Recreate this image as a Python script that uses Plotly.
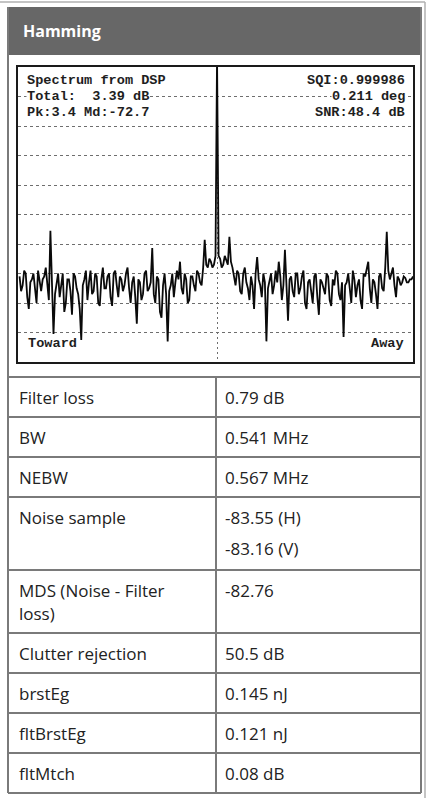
import plotly.graph_objects as go

W, H = 429, 798

# Doppler spectrum (dB) per velocity bin, -128 .. 127
bins = list(range(-128, 128))
spectrum_db = [
    -71, -76, -74, -69, -70, -78, -82, -73, -72, -70, -75, -80, -69, -73, -76, -72,
    -71, -68, -74, -79, -55.5, -70, -90.5, -77, -73, -70, -78, -74, -70, -83, -80, -72,
    -72, -76, -84, -70, -71, -75, -77, -82, -92.5, -74, -72, -69, -79, -73, -69, -77,
    -76, -70, -71, -80, -81, -72, -68, -75, -75, -71, -70, -78, -81, -70, -69, -74,
    -78, -71, -72, -76, -74, -70, -68, -75, -80, -73, -71, -78, -87, -72, -73, -79,
    -77, -70, -69, -76, -75, -73, -61.4, -77, -80, -71, -72, -83, -85, -74, -70, -77,
    -93, -76, -74, -70, -78, -73, -69, -72, -66, -75, -77, -70, -72, -80, -79, -71,
    -71, -74, -76, -69, -70, -73, -74, -68, -58.6, -67, -68, -65, -66, -68, -67, -64,
    3.4, -64, -65, -68, -67, -64, -66, -67, -57.6, -66, -68, -71, -74, -69, -70, -76,
    -77, -70, -68, -73, -75, -79, -71, -74, -82, -70, -64.4, -72, -74, -78, -70, -73,
    -93, -75, -72, -70, -77, -74, -69, -73, -66, -71, -79, -74, -62, -75, -86, -72,
    -71, -76, -78, -70, -70, -77, -75, -71, -69, -80, -82, -73, -72, -76, -80, -71,
    -70, -78, -84, -72, -73, -75, -77, -70, -71, -79, -81, -72, -74, -69, -70, -77,
    -79, -73, -91.5, -74, -73, -70, -76, -80, -69, -72, -78, -74, -72, -79, -82, -70,
    -71, -69, -66, -75, -80, -72, -73, -77, -82, -71, -70, -75, -76, -68, -55.9, -69,
    -72, -70, -68, -74, -78, -71, -72, -74, -73, -71, -71.5, -73, -73, -72, -72, -71,
]

header_title = "Hamming"
info_left = ["Spectrum from DSP", "Total:  3.39 dB", "Pk:3.4 Md:-72.7"]
info_right = ["SQI:0.999986", "0.211 deg", "SNR:48.4 dB"]
dir_labels = ["Toward", "Away"]

param_names = ["Filter loss", "BW", "NEBW", "Noise sample", "MDS (Noise - Filter\nloss)",
               "Clutter rejection", "brstEg", "fltBrstEg", "fltMtch"]
param_values = ["0.79 dB", "0.541 MHz", "0.567 MHz", "-83.55 (H)\n-83.16 (V)", "-82.76",
                "50.5 dB", "0.145 nJ", "0.121 nJ", "0.08 dB"]


def fx(x):
    return x / W


def fy(y):
    return 1 - y / H


# layout geometry in pixels
TL, TR = 8, 421          # table left / right border
COL = 216                # column divider
HEAD_TOP, HEAD_BOT = 7, 55
PL, PR, PT, PB = 18, 413, 67, 362   # spectrum frame
row_lines = [377, 417, 457, 497, 570, 633, 673, 713, 753, 793]
first_line_y = [397, 437, 477, 517, 590, 653, 693, 733, 773]
line_gap = [0, 0, 0, 31, 23, 0, 0, 0, 0]

fig = go.Figure()
fig.add_trace(go.Scatter(
    x=bins, y=spectrum_db, mode="lines",
    line=dict(color="#0a0a0a", width=1.8), hoverinfo="skip", showlegend=False,
))

grid = "#6e6e6e"
fig.update_layout(
    width=W, height=H, margin=dict(l=0, r=0, t=0, b=0),
    paper_bgcolor="white", plot_bgcolor="white",
    xaxis=dict(domain=[fx(PL), fx(PR)], range=[-129, 127], tickvals=[0],
               showticklabels=False, ticks="", showgrid=True, gridcolor=grid,
               gridwidth=1, griddash="2px,3px", zeroline=False,
               showline=True, linecolor="#1a1a1a", linewidth=2, mirror=True),
    yaxis=dict(domain=[fy(PB), fy(PT)], range=[-100, 0], dtick=10,
               showticklabels=False, ticks="", showgrid=True, gridcolor=grid,
               gridwidth=1, griddash="3px,3px", zeroline=False,
               showline=True, linecolor="#1a1a1a", linewidth=2, mirror=True),
)

shapes = []
# outer page frame
shapes.append(dict(type="line", xref="paper", yref="paper", x0=0, x1=fx(425), y0=fy(2), y1=fy(2),
                   line=dict(color="#b0b0b0", width=1.5)))
shapes.append(dict(type="line", xref="paper", yref="paper", x0=fx(425), x1=fx(425), y0=fy(2), y1=0,
                   line=dict(color="#b0b0b0", width=1.5)))
# header bar
shapes.append(dict(type="rect", xref="paper", yref="paper", x0=fx(TL), x1=fx(TR),
                   y0=fy(HEAD_BOT), y1=fy(HEAD_TOP), fillcolor="#676767", line=dict(width=0),
                   layer="below"))
tbl = dict(color="#7a7a7a", width=2)
shapes.append(dict(type="line", xref="paper", yref="paper", x0=fx(TL), x1=fx(TL),
                   y0=fy(HEAD_TOP), y1=fy(row_lines[-1]), line=tbl))
shapes.append(dict(type="line", xref="paper", yref="paper", x0=fx(TR), x1=fx(TR),
                   y0=fy(HEAD_TOP), y1=fy(row_lines[-1]), line=tbl))
shapes.append(dict(type="line", xref="paper", yref="paper", x0=fx(COL), x1=fx(COL),
                   y0=fy(row_lines[0]), y1=fy(row_lines[-1]), line=tbl))
for yl in row_lines:
    shapes.append(dict(type="line", xref="paper", yref="paper", x0=fx(TL), x1=fx(TR),
                       y0=fy(yl), y1=fy(yl), line=tbl))
fig.update_layout(shapes=shapes)

ann = []
ann.append(dict(text=f"<b>{header_title}</b>", xref="paper", yref="paper", x=fx(21), y=fy(31),
                xanchor="left", yanchor="middle", showarrow=False,
                font=dict(family="Open Sans", size=16, color="white")))

mono = dict(family="Liberation Mono, Courier New, monospace", size=13.6, color="#1e1e1e")
info_y = [80, 97, 113]
for t, yy in zip(info_left, info_y):
    ann.append(dict(text=f"<b>{t.replace(' ', '&nbsp;')}</b>", xref="paper", yref="paper",
                    x=fx(26), y=fy(yy), xanchor="left", yanchor="middle", showarrow=False,
                    font=mono, bgcolor="white", borderpad=0))
for t, yy in zip(info_right, info_y):
    ann.append(dict(text=f"<b>{t.replace(' ', '&nbsp;')}</b>", xref="paper", yref="paper",
                    x=fx(406), y=fy(yy), xanchor="right", yanchor="middle", showarrow=False,
                    font=mono, bgcolor="white", borderpad=0))
ann.append(dict(text=f"<b>{dir_labels[0]}</b>", xref="paper", yref="paper", x=fx(26), y=fy(343),
                xanchor="left", yanchor="middle", showarrow=False, font=mono))
ann.append(dict(text=f"<b>{dir_labels[1]}</b>", xref="paper", yref="paper", x=fx(406), y=fy(343),
                xanchor="right", yanchor="middle", showarrow=False, font=mono))

body = dict(family="Open Sans", size=17, color="#222222")
for name, val, y0, gap in zip(param_names, param_values, first_line_y, line_gap):
    for k, part in enumerate(name.split("\n")):
        ann.append(dict(text=part, xref="paper", yref="paper", x=fx(17), y=fy(y0 + k * gap),
                        xanchor="left", yanchor="middle", showarrow=False, font=body))
    for k, part in enumerate(val.split("\n")):
        ann.append(dict(text=part, xref="paper", yref="paper", x=fx(223), y=fy(y0 + k * gap),
                        xanchor="left", yanchor="middle", showarrow=False, font=body))
fig.update_layout(annotations=ann)

fig.write_html("out.html", config={"displayModeBar": False})
